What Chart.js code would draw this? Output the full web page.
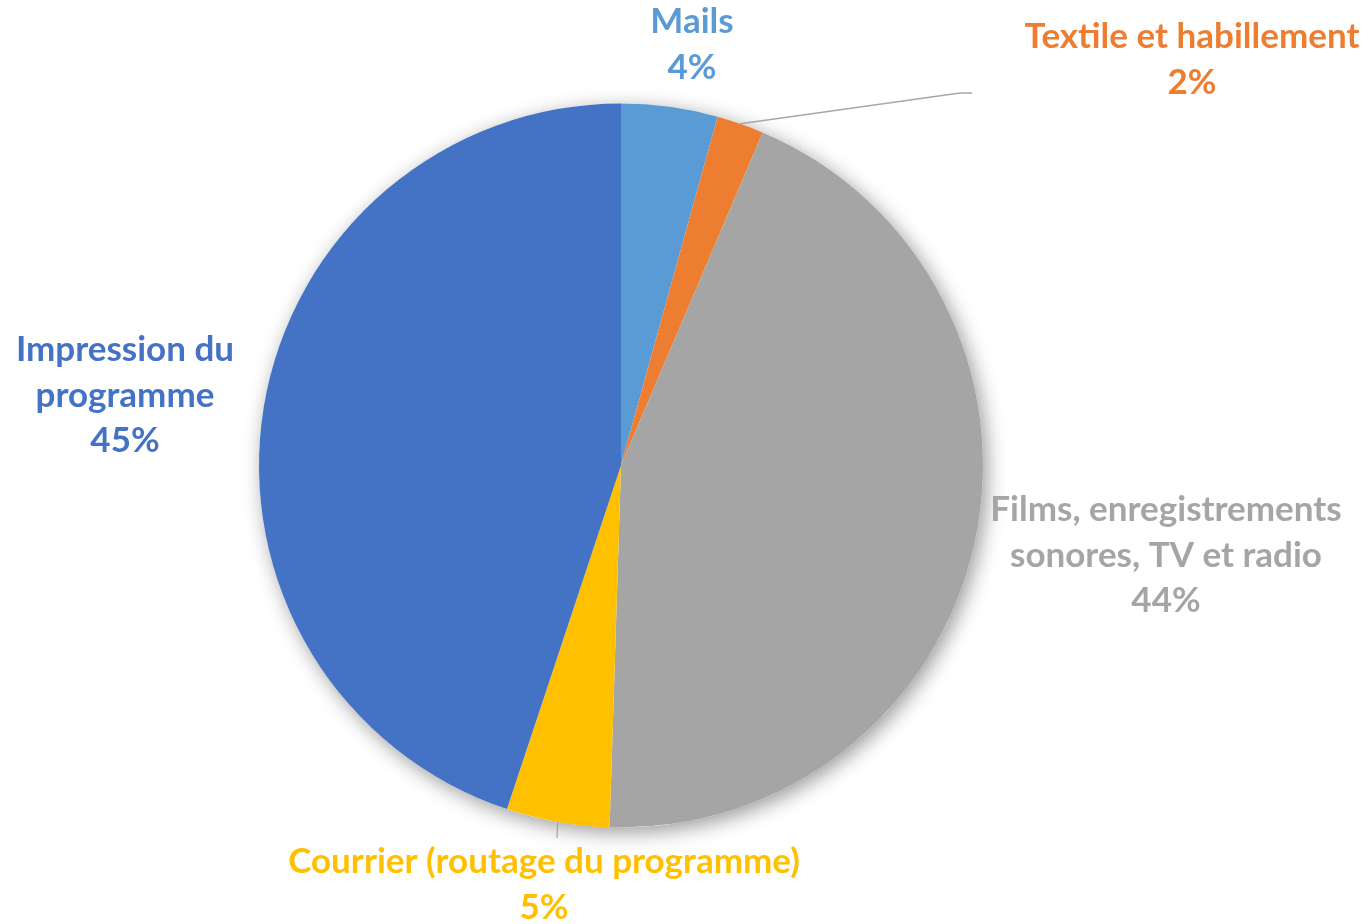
<!DOCTYPE html>
<html>
<head>
<meta charset="utf-8">
<script src="https://cdn.jsdelivr.net/npm/chart.js@4.4.1/dist/chart.umd.min.js"></script>
<style>
  html, body { margin: 0; padding: 0; background: #fff; }
  #wrap { width: 1368px; height: 924px; }
</style>
</head>
<body>
<div id="wrap"><canvas id="myChart" width="1368" height="924"></canvas></div>
<script>
const categories = [
  ["Mails"],
  ["Textile et habillement"],
  ["Films, enregistrements", "sonores, TV et radio"],
  ["Courrier (routage du programme)"],
  ["Impression du", "programme"],
];
const values = [4.3, 2.1, 44.1, 4.6, 44.9];
const colors = ["#5B9BD5", "#ED7D31", "#A5A5A5", "#FFC000", "#4472C4"];

// where each label block is centred (x, first line y) and whether it needs a leader line
const labelLayout = [
  { x: 692, y: 22 },
  { x: 1192, y: 37, leader: [[960, 93], [972, 93]] },
  { x: 1166, y: 510 },
  { x: 544, y: 862, leader: [[557, 838]] },
  { x: 125, y: 350 },
];

const ctx = document.getElementById("myChart").getContext("2d");

const shadowPlugin = {
  id: "shadow",
  beforeDatasetsDraw(chart) {
    const arc = chart.getDatasetMeta(0).data[0];
    const c = chart.ctx;
    c.save();
    c.shadowColor = "rgba(0, 0, 0, 0.4)";
    c.shadowBlur = 20;
    c.shadowOffsetX = 4;
    c.shadowOffsetY = 5;
    c.fillStyle = "#fff";
    c.beginPath();
    c.arc(arc.x, arc.y, arc.outerRadius, 0, Math.PI * 2);
    c.fill();
    c.restore();
  },
};

const labelPlugin = {
  id: "outLabels",
  afterDatasetsDraw(chart) {
    const c = chart.ctx;
    const meta = chart.getDatasetMeta(0);
    const total = values.reduce((a, b) => a + b, 0);
    c.save();
    c.font = "bold 35px Lato";
    c.textAlign = "center";
    c.textBaseline = "middle";
    meta.data.forEach((arc, i) => {
      const pos = labelLayout[i];
      if (pos.leader) {
        const mid = (arc.startAngle + arc.endAngle) / 2;
        c.strokeStyle = "#A6A6A6";
        c.lineWidth = 1.3;
        c.beginPath();
        c.moveTo(arc.x + Math.cos(mid) * arc.outerRadius, arc.y + Math.sin(mid) * arc.outerRadius);
        pos.leader.forEach((p) => c.lineTo(p[0], p[1]));
        c.stroke();
      }
      const lines = categories[i].concat([Math.round((values[i] / total) * 100) + "%"]);
      c.fillStyle = colors[i];
      lines.forEach((line, j) => {
        c.fillText(line, pos.x, pos.y + j * 45.5);
      });
    });
    c.restore();
  },
};

new Chart(ctx, {
  type: "pie",
  data: {
    labels: categories.map((l) => l.join(" ")),
    datasets: [
      {
        data: values,
        backgroundColor: colors,
        borderWidth: 0,
      },
    ],
  },
  options: {
    responsive: false,
    animation: false,
    layout: { padding: { top: 103, bottom: 96, left: 259, right: 385 } },
    plugins: {
      legend: { display: false },
      tooltip: { enabled: false },
    },
  },
  plugins: [shadowPlugin, labelPlugin],
});
</script>
</body>
</html>
